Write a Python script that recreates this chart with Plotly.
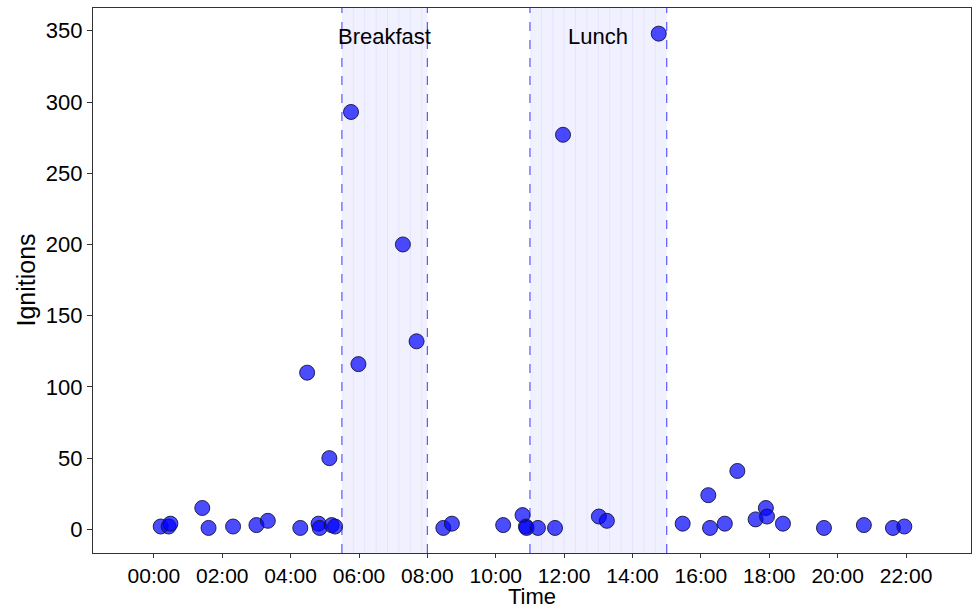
import plotly.graph_objects as go

# Ignition events: time of day and number of ignitions
times = ["00:12", "00:26", "00:29", "01:25", "01:36", "02:19", "03:00", "03:20",
         "04:17", "04:29", "04:49", "04:51", "05:08", "05:12", "05:18", "05:46",
         "05:59", "07:17", "07:41", "08:28", "08:43", "10:13", "10:47", "10:53",
         "10:54", "11:14", "11:44", "11:58", "13:01", "13:15", "14:46", "15:28",
         "16:13", "16:16", "16:42", "17:04", "17:36", "17:54", "17:56", "18:24",
         "19:36", "20:46", "21:37", "21:57"]
ignitions = [2, 2, 4, 15, 1, 2, 3, 6,
             1, 110, 4, 1, 50, 3, 2, 293,
             116, 200, 132, 1, 4, 3, 10, 2,
             1, 1, 1, 277, 9, 6, 348, 4,
             24, 1, 4, 41, 7, 15, 9, 4,
             1, 3, 1, 2]

# Meal periods (hours)
meal_names = ["Breakfast", "Lunch"]
meal_start = [5.5, 11.0]
meal_end = [8.0, 15.0]

tick_hours = list(range(0, 24, 2))
tick_labels = [f"{h:02d}:00" for h in tick_hours]


def to_hours(t):
    h, m = t.split(":")
    return int(h) + int(m) / 60.0


x_hours = [to_hours(t) for t in times]

fig = go.Figure()

shapes = []
annotations = []
for name, s, e in zip(meal_names, meal_start, meal_end):
    shapes.append(dict(type="rect", xref="x", yref="paper", x0=s, x1=e, y0=0, y1=1,
                       fillcolor="rgba(0,0,255,0.06)", line_width=0, layer="below"))
    # faint seams inside the band every 20 minutes
    k = 1
    while s + k / 3.0 < e - 1e-6:
        xv = s + k / 3.0
        shapes.append(dict(type="line", xref="x", yref="paper", x0=xv, x1=xv, y0=0, y1=1,
                           line=dict(color="rgba(0,0,255,0.05)", width=1), layer="below"))
        k += 1
    for xv in (s, e):
        shapes.append(dict(type="line", xref="x", yref="paper", x0=xv, x1=xv, y0=0, y1=1,
                           line=dict(color="rgba(60,60,255,0.85)", width=1.2, dash="dash"),
                           layer="below"))
    annotations.append(dict(x=(s + e) / 2, y=346, xref="x", yref="y", text=name,
                            showarrow=False, font=dict(size=22, color="black")))

# axis titles
annotations.append(dict(x=0.5, y=0, xref="paper", yref="paper", yanchor="bottom",
                        yshift=-57, borderpad=0, text="Time", showarrow=False,
                        font=dict(size=22, color="black")))
annotations.append(dict(x=0, y=0.5, xref="paper", yref="paper", xanchor="center",
                        xshift=-68, text="Ignitions", textangle=-90, showarrow=False,
                        font=dict(size=25, color="black")))

fig.add_trace(go.Scatter(
    x=x_hours, y=ignitions, mode="markers",
    marker=dict(size=15, color="rgba(0,0,255,0.7)",
                line=dict(color="rgba(20,20,60,0.9)", width=1)),
    showlegend=False,
))

fig.update_layout(
    width=972, height=611,
    margin=dict(l=93, r=1, t=8, b=58),
    paper_bgcolor="white", plot_bgcolor="white",
    font=dict(family="Liberation Sans, Arial, sans-serif", color="black"),
    shapes=shapes, annotations=annotations,
)
fig.update_xaxes(
    range=[-1.78, 23.9], tickvals=tick_hours, ticktext=tick_labels,
    tickfont=dict(size=21), showgrid=False, zeroline=False, automargin=False,
    showline=True, linecolor="#333", linewidth=1.2, mirror=True,
    ticks="outside", ticklen=4, tickcolor="#333",
)
fig.update_yaxes(
    range=[-16.6, 366], tickvals=[0, 50, 100, 150, 200, 250, 300, 350],
    tickfont=dict(size=22), showgrid=False, zeroline=False, automargin=False,
    showline=True, linecolor="#333", linewidth=1.2, mirror=True,
    ticks="outside", ticklen=5, tickcolor="#333",
)

fig.write_html("out.html")
